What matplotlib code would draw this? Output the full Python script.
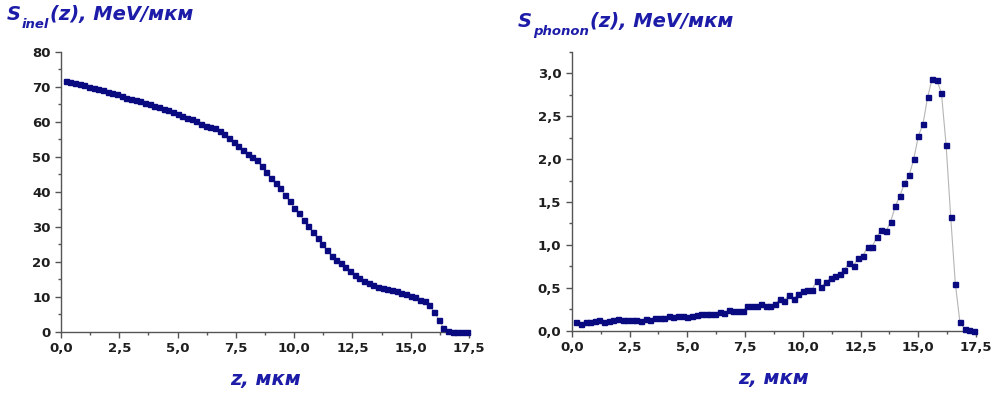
import matplotlib
matplotlib.use("Agg")
import matplotlib.pyplot as plt
from matplotlib.ticker import MultipleLocator, FuncFormatter
from matplotlib.transforms import IdentityTransform

# ---- data ----
z_inel = [round(0.2 + 0.2 * i, 1) for i in range(87)]
s_inel = [71.6, 71.3, 71.0, 70.7, 70.4, 70.0, 69.7, 69.3, 69.0, 68.6,
          68.2, 67.8, 67.4, 66.9, 66.4, 66.1, 65.9, 65.5, 65.0, 64.5,
          64.1, 63.7, 63.3, 62.8, 62.2, 61.7, 61.2, 60.7, 60.1, 59.5,
          58.9, 58.6, 58.3, 57.5, 56.4, 55.3, 54.2, 53.1, 52.0, 50.9,
          49.9, 49.0, 47.3, 45.6, 44.0, 42.5, 41.0, 39.2, 37.3, 35.5,
          33.8, 32.0, 30.2, 28.5, 26.8, 25.0, 23.3, 21.7, 20.6, 19.6,
          18.4, 17.3, 16.3, 15.4, 14.5, 13.9, 13.3, 12.9, 12.6, 12.3,
          11.9, 11.6, 11.2, 10.7, 10.3, 9.8, 9.0, 8.9, 7.6, 5.7,
          3.5, 1.2, 0.2, 0.05, 0.0, 0.0, 0.0]

z_phon = [round(0.2 + 0.2 * i, 1) for i in range(87)]
s_phon = [0.10, 0.08, 0.10, 0.10, 0.11, 0.12, 0.10, 0.11, 0.12, 0.14,
          0.12, 0.13, 0.12, 0.13, 0.11, 0.14, 0.13, 0.15, 0.15, 0.15,
          0.17, 0.16, 0.17, 0.17, 0.16, 0.17, 0.18, 0.19, 0.19, 0.19,
          0.20, 0.22, 0.21, 0.24, 0.23, 0.23, 0.23, 0.29, 0.29, 0.29,
          0.31, 0.29, 0.29, 0.31, 0.37, 0.35, 0.42, 0.37, 0.43, 0.46,
          0.47, 0.48, 0.58, 0.51, 0.57, 0.61, 0.64, 0.66, 0.71, 0.79,
          0.76, 0.85, 0.87, 0.98, 0.98, 1.09, 1.18, 1.16, 1.27, 1.45,
          1.57, 1.72, 1.81, 2.00, 2.27, 2.41, 2.72, 2.94, 2.92, 2.77,
          2.17, 1.33, 0.55, 0.10, 0.02, 0.01, 0.00]

x_ticks = [0.0, 2.5, 5.0, 7.5, 10.0, 12.5, 15.0, 17.5]
title_sub = ["inel", "phonon"]
title_rest = "(z), MeV/мкм"
x_label = "z, мкм"

# ---- style ----
FONT = "DejaVu Sans"
BLUE = "#1c1ca8"
MARK = "#0a0a80"
plt.rcParams["font.family"] = [FONT]

fig = plt.figure(figsize=(9.94, 3.95), dpi=100)
ax1 = fig.add_axes([0.0614, 0.160, 0.4105, 0.709])
ax2 = fig.add_axes([0.5752, 0.1628, 0.4068, 0.7056])


def comma(v, pos):
    return f"{v:.1f}".replace(".", ",")


def style(ax):
    for s in ("top", "right"):
        ax.spines[s].set_visible(False)
    for s in ("left", "bottom"):
        ax.spines[s].set_color("#555555")
        ax.spines[s].set_linewidth(1.0)
    ax.tick_params(which="major", direction="out", length=4.5, width=1,
                   color="#555555", labelsize=9.5, labelcolor="#1e1e1e", pad=3)
    ax.tick_params(which="minor", direction="out", length=2.5, width=1,
                   color="#555555")
    ax.set_xlim(0, 17.5)
    ax.set_xticks(x_ticks)
    ax.xaxis.set_minor_locator(MultipleLocator(1.25))
    ax.xaxis.set_major_formatter(FuncFormatter(comma))
    ax.set_xlabel(x_label, color=BLUE, fontsize=14, fontweight="bold",
                  fontstyle="italic", labelpad=11)
    for lab in ax.get_xticklabels() + ax.get_yticklabels():
        lab.set_fontweight("bold")


ax1.plot(z_inel, s_inel, color="#b5b5b5", lw=0.8, zorder=2)
ax1.plot(z_inel, s_inel, ls="none", marker="s", ms=3.6, color=MARK,
         mec=MARK, zorder=3, clip_on=False)
ax1.set_ylim(0, 80)
ax1.yaxis.set_major_locator(MultipleLocator(10))
ax1.yaxis.set_minor_locator(MultipleLocator(5))
ax1.yaxis.set_major_formatter(FuncFormatter(lambda v, p: f"{v:.0f}"))
style(ax1)

ax2.plot(z_phon, s_phon, color="#b5b5b5", lw=0.8, zorder=2)
ax2.plot(z_phon, s_phon, ls="none", marker="s", ms=3.6, color=MARK,
         mec=MARK, zorder=3, clip_on=False)
ax2.set_ylim(0, 3.25)
ax2.yaxis.set_major_locator(MultipleLocator(0.5))
ax2.yaxis.set_minor_locator(MultipleLocator(0.25))
ax2.yaxis.set_major_formatter(FuncFormatter(comma))
style(ax2)

# ---- titles (S + subscript + rest) ----
tkw = dict(color=BLUE, fontweight="bold", fontstyle="italic")
for (x0, y0), sub in zip([(7, 375), (518, 368)], title_sub):
    t1 = fig.text(x0 / 994, y0 / 395, "S", fontsize=14, ha="left",
                  va="baseline", **tkw)
    t2 = fig.text(0, 0, sub, fontsize=9.5, ha="left", va="baseline", **tkw)
    t2.set_transform(IdentityTransform())
    fig.canvas.draw()
    r = fig.canvas.get_renderer()
    bb = t1.get_window_extent(r)
    t2.set_position((bb.x1 + 1, y0 - 8))
    fig.canvas.draw()
    bb2 = t2.get_window_extent(r)
    t3 = fig.text(0, 0, title_rest, fontsize=14, ha="left", va="baseline",
                  **tkw)
    t3.set_transform(IdentityTransform())
    t3.set_position((bb2.x1 + 1, y0))

fig.savefig("out.png", dpi=100)
